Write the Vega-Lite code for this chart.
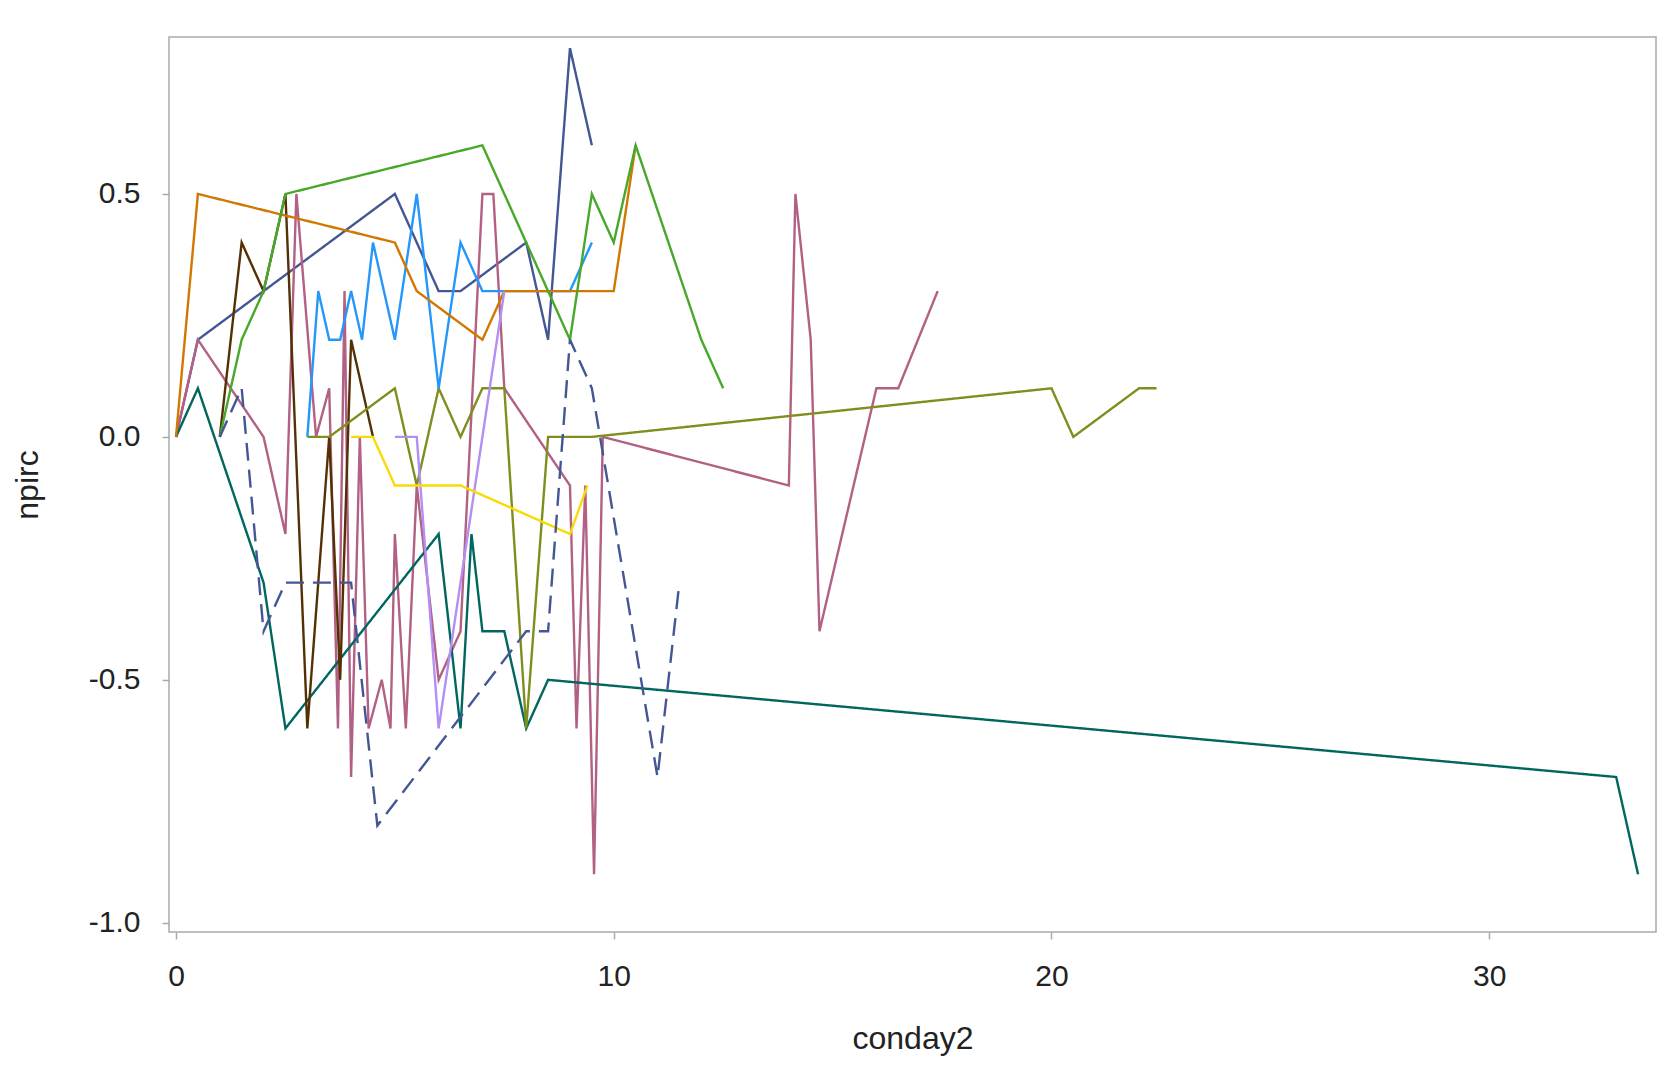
{
  "$schema": "https://vega.github.io/schema/vega-lite/v6.json",
  "width": 1487,
  "height": 895,
  "autosize": {"type": "none"},
  "padding": {"left": 169, "top": 37, "right": 12, "bottom": 144},
  "background": "white",
  "config": {
    "view": {"stroke": "#A6ACAF", "strokeWidth": 1.5},
    "axis": {
      "grid": false,
      "domain": false,
      "tickColor": "#A6ACAF",
      "tickSize": 7,
      "tickWidth": 1.5,
      "labelFont": "Liberation Sans",
      "labelFontSize": 30,
      "labelColor": "#222222",
      "titleFont": "Liberation Sans",
      "titleFontSize": 32,
      "titleFontWeight": "normal",
      "titleColor": "#222222"
    }
  },
  "data": {
    "values": [
      {"subject": "A", "conday2": 0, "npirc": 0},
      {"subject": "A", "conday2": 0.5, "npirc": 0.2},
      {"subject": "A", "conday2": 5, "npirc": 0.5},
      {"subject": "A", "conday2": 6, "npirc": 0.3},
      {"subject": "A", "conday2": 6.5, "npirc": 0.3},
      {"subject": "A", "conday2": 8, "npirc": 0.4},
      {"subject": "A", "conday2": 8.5, "npirc": 0.2},
      {"subject": "A", "conday2": 9, "npirc": 0.8},
      {"subject": "A", "conday2": 9.5, "npirc": 0.6},

      {"subject": "B", "conday2": 0, "npirc": 0},
      {"subject": "B", "conday2": 0.5, "npirc": 0.2},
      {"subject": "B", "conday2": 2, "npirc": 0},
      {"subject": "B", "conday2": 2.5, "npirc": -0.2},
      {"subject": "B", "conday2": 2.75, "npirc": 0.5},
      {"subject": "B", "conday2": 3.2, "npirc": 0},
      {"subject": "B", "conday2": 3.5, "npirc": 0.1},
      {"subject": "B", "conday2": 3.7, "npirc": -0.6},
      {"subject": "B", "conday2": 3.85, "npirc": 0.3},
      {"subject": "B", "conday2": 4, "npirc": -0.7},
      {"subject": "B", "conday2": 4.2, "npirc": 0},
      {"subject": "B", "conday2": 4.4, "npirc": -0.6},
      {"subject": "B", "conday2": 4.7, "npirc": -0.5},
      {"subject": "B", "conday2": 4.9, "npirc": -0.6},
      {"subject": "B", "conday2": 5, "npirc": -0.2},
      {"subject": "B", "conday2": 5.25, "npirc": -0.6},
      {"subject": "B", "conday2": 5.5, "npirc": -0.1},
      {"subject": "B", "conday2": 6, "npirc": -0.5},
      {"subject": "B", "conday2": 6.5, "npirc": -0.4},
      {"subject": "B", "conday2": 7, "npirc": 0.5},
      {"subject": "B", "conday2": 7.25, "npirc": 0.5},
      {"subject": "B", "conday2": 7.5, "npirc": 0.1},
      {"subject": "B", "conday2": 9, "npirc": -0.1},
      {"subject": "B", "conday2": 9.15, "npirc": -0.6},
      {"subject": "B", "conday2": 9.35, "npirc": -0.1},
      {"subject": "B", "conday2": 9.55, "npirc": -0.9},
      {"subject": "B", "conday2": 9.75, "npirc": 0},
      {"subject": "B", "conday2": 14, "npirc": -0.1},
      {"subject": "B", "conday2": 14.15, "npirc": 0.5},
      {"subject": "B", "conday2": 14.5, "npirc": 0.2},
      {"subject": "B", "conday2": 14.7, "npirc": -0.4},
      {"subject": "B", "conday2": 16, "npirc": 0.1},
      {"subject": "B", "conday2": 16.5, "npirc": 0.1},
      {"subject": "B", "conday2": 17.4, "npirc": 0.3},

      {"subject": "C", "conday2": 0, "npirc": 0},
      {"subject": "C", "conday2": 0.5, "npirc": 0.1},
      {"subject": "C", "conday2": 2, "npirc": -0.3},
      {"subject": "C", "conday2": 2.5, "npirc": -0.6},
      {"subject": "C", "conday2": 6, "npirc": -0.2},
      {"subject": "C", "conday2": 6.5, "npirc": -0.6},
      {"subject": "C", "conday2": 6.75, "npirc": -0.2},
      {"subject": "C", "conday2": 7, "npirc": -0.4},
      {"subject": "C", "conday2": 7.5, "npirc": -0.4},
      {"subject": "C", "conday2": 8, "npirc": -0.6},
      {"subject": "C", "conday2": 8.5, "npirc": -0.5},
      {"subject": "C", "conday2": 32.9, "npirc": -0.7},
      {"subject": "C", "conday2": 33.4, "npirc": -0.9},

      {"subject": "D", "conday2": 1, "npirc": 0},
      {"subject": "D", "conday2": 1.5, "npirc": 0.4},
      {"subject": "D", "conday2": 2, "npirc": 0.3},
      {"subject": "D", "conday2": 2.5, "npirc": 0.5},
      {"subject": "D", "conday2": 3, "npirc": -0.6},
      {"subject": "D", "conday2": 3.5, "npirc": 0},
      {"subject": "D", "conday2": 3.75, "npirc": -0.5},
      {"subject": "D", "conday2": 4, "npirc": 0.2},
      {"subject": "D", "conday2": 4.5, "npirc": 0},

      {"subject": "E", "conday2": 3, "npirc": 0},
      {"subject": "E", "conday2": 3.5, "npirc": 0},
      {"subject": "E", "conday2": 5, "npirc": 0.1},
      {"subject": "E", "conday2": 5.5, "npirc": -0.1},
      {"subject": "E", "conday2": 6, "npirc": 0.1},
      {"subject": "E", "conday2": 6.5, "npirc": 0},
      {"subject": "E", "conday2": 7, "npirc": 0.1},
      {"subject": "E", "conday2": 7.5, "npirc": 0.1},
      {"subject": "E", "conday2": 8, "npirc": -0.6},
      {"subject": "E", "conday2": 8.5, "npirc": 0},
      {"subject": "E", "conday2": 9.5, "npirc": 0},
      {"subject": "E", "conday2": 20, "npirc": 0.1},
      {"subject": "E", "conday2": 20.5, "npirc": 0},
      {"subject": "E", "conday2": 22, "npirc": 0.1},
      {"subject": "E", "conday2": 22.4, "npirc": 0.1},

      {"subject": "F", "conday2": 3, "npirc": 0},
      {"subject": "F", "conday2": 3.25, "npirc": 0.3},
      {"subject": "F", "conday2": 3.5, "npirc": 0.2},
      {"subject": "F", "conday2": 3.75, "npirc": 0.2},
      {"subject": "F", "conday2": 4, "npirc": 0.3},
      {"subject": "F", "conday2": 4.25, "npirc": 0.2},
      {"subject": "F", "conday2": 4.5, "npirc": 0.4},
      {"subject": "F", "conday2": 5, "npirc": 0.2},
      {"subject": "F", "conday2": 5.5, "npirc": 0.5},
      {"subject": "F", "conday2": 6, "npirc": 0.1},
      {"subject": "F", "conday2": 6.5, "npirc": 0.4},
      {"subject": "F", "conday2": 7, "npirc": 0.3},
      {"subject": "F", "conday2": 9, "npirc": 0.3},
      {"subject": "F", "conday2": 9.5, "npirc": 0.4},

      {"subject": "G", "conday2": 0, "npirc": 0},
      {"subject": "G", "conday2": 0.5, "npirc": 0.5},
      {"subject": "G", "conday2": 5, "npirc": 0.4},
      {"subject": "G", "conday2": 5.5, "npirc": 0.3},
      {"subject": "G", "conday2": 7, "npirc": 0.2},
      {"subject": "G", "conday2": 7.5, "npirc": 0.3},
      {"subject": "G", "conday2": 10, "npirc": 0.3},
      {"subject": "G", "conday2": 10.5, "npirc": 0.6},

      {"subject": "H", "conday2": 1, "npirc": 0},
      {"subject": "H", "conday2": 1.5, "npirc": 0.2},
      {"subject": "H", "conday2": 2, "npirc": 0.3},
      {"subject": "H", "conday2": 2.5, "npirc": 0.5},
      {"subject": "H", "conday2": 7, "npirc": 0.6},
      {"subject": "H", "conday2": 9, "npirc": 0.2},
      {"subject": "H", "conday2": 9.5, "npirc": 0.5},
      {"subject": "H", "conday2": 10, "npirc": 0.4},
      {"subject": "H", "conday2": 10.5, "npirc": 0.6},
      {"subject": "H", "conday2": 12, "npirc": 0.2},
      {"subject": "H", "conday2": 12.5, "npirc": 0.1},

      {"subject": "I", "conday2": 5, "npirc": 0},
      {"subject": "I", "conday2": 5.5, "npirc": 0},
      {"subject": "I", "conday2": 6, "npirc": -0.6},
      {"subject": "I", "conday2": 7.5, "npirc": 0.3},

      {"subject": "J", "conday2": 4, "npirc": 0},
      {"subject": "J", "conday2": 4.5, "npirc": 0},
      {"subject": "J", "conday2": 5, "npirc": -0.1},
      {"subject": "J", "conday2": 6.5, "npirc": -0.1},
      {"subject": "J", "conday2": 9, "npirc": -0.2},
      {"subject": "J", "conday2": 9.4, "npirc": -0.1},

      {"subject": "K", "conday2": 1, "npirc": 0},
      {"subject": "K", "conday2": 1.5, "npirc": 0.1},
      {"subject": "K", "conday2": 2, "npirc": -0.4},
      {"subject": "K", "conday2": 2.5, "npirc": -0.3},
      {"subject": "K", "conday2": 4, "npirc": -0.3},
      {"subject": "K", "conday2": 4.6, "npirc": -0.8},
      {"subject": "K", "conday2": 8, "npirc": -0.4},
      {"subject": "K", "conday2": 8.5, "npirc": -0.4},
      {"subject": "K", "conday2": 9, "npirc": 0.2},
      {"subject": "K", "conday2": 9.5, "npirc": 0.1},
      {"subject": "K", "conday2": 11, "npirc": -0.7},
      {"subject": "K", "conday2": 11.5, "npirc": -0.3}
    ]
  },
  "mark": {"type": "line", "strokeWidth": 2.4, "strokeCap": "butt"},
  "encoding": {
    "x": {
      "field": "conday2",
      "type": "quantitative",
      "scale": {"domain": [-0.16, 33.81], "nice": false, "zero": false},
      "axis": {"values": [0, 10, 20, 30], "format": "d", "title": "conday2", "labelPadding": 22, "titleY": 116, "titleBaseline": "alphabetic"}
    },
    "y": {
      "field": "npirc",
      "type": "quantitative",
      "scale": {"domain": [-1.019, 0.823], "nice": false, "zero": false},
      "axis": {"values": [-1, -0.5, 0, 0.5], "labelExpr": "replace(format(datum.value, '.1f'), '\u2212', '-')", "title": "npirc", "labelPadding": 22, "titleX": -142, "titleBaseline": "middle"}
    },
    "color": {
      "field": "subject",
      "type": "nominal",
      "legend": null,
      "scale": {
        "domain": ["A", "B", "C", "D", "E", "F", "G", "H", "I", "J", "K"],
        "range": ["#445694", "#B26084", "#01665E", "#543005", "#7F8E1F", "#2597FA", "#D17800", "#47A82A", "#B38EF3", "#F9DA04", "#445694"]
      }
    },
    "strokeDash": {
      "field": "subject",
      "type": "nominal",
      "legend": null,
      "scale": {
        "domain": ["A", "B", "C", "D", "E", "F", "G", "H", "I", "J", "K"],
        "range": [[1, 0], [1, 0], [1, 0], [1, 0], [1, 0], [1, 0], [1, 0], [1, 0], [1, 0], [1, 0], [18, 9]]
      }
    }
  }
}
